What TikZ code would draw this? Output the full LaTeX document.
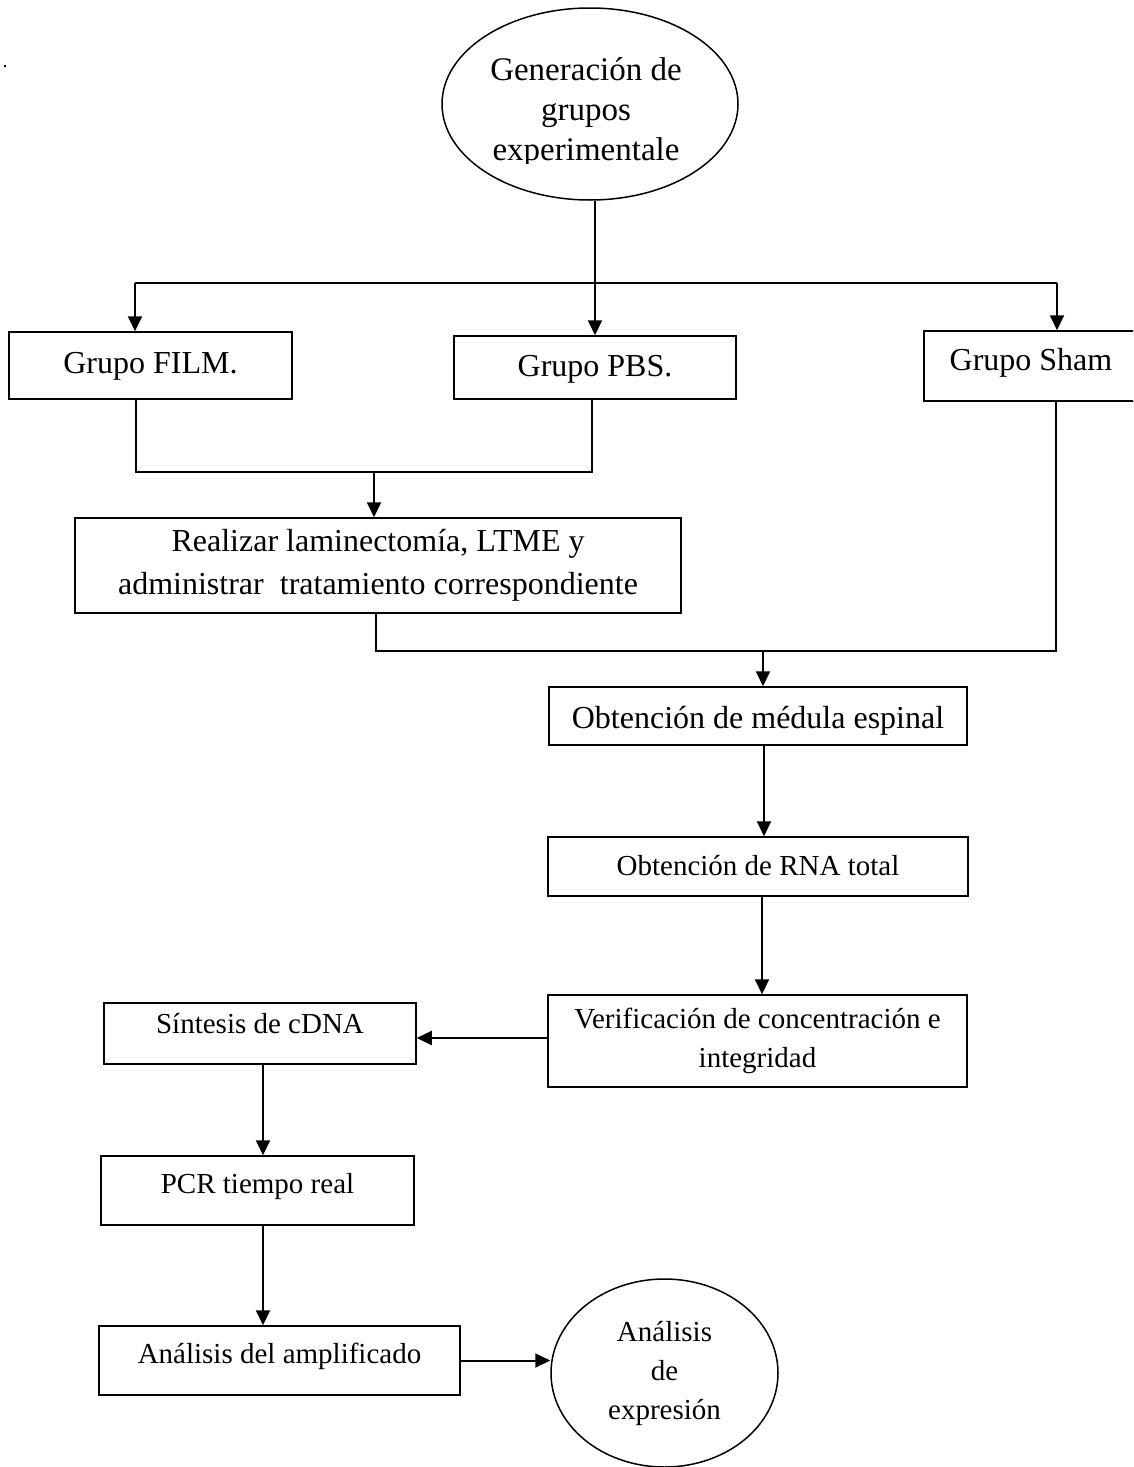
\documentclass[tikz,border=0pt]{standalone}
\usepackage{fontspec}
\setmainfont{Liberation Serif}
\usetikzlibrary{arrows.meta,shapes.geometric}
\tikzset{
  box/.style={draw, line width=1.5pt, inner sep=0pt, align=center},
  oval/.style={ellipse, draw, line width=1.5pt, inner sep=0pt, align=center},
  conn/.style={line width=1.5pt},
  arr/.style={line width=2pt, -{Triangle[length=15pt,width=14pt]}},
  big/.style={font=\fontsize{32}{43}\selectfont},
  small/.style={font=\fontsize{29}{39}\selectfont},
  huge/.style={font=\fontsize{33}{40}\selectfont},
}
\begin{document}
\begin{tikzpicture}[x=1pt,y=-1pt]
\useasboundingbox (0,0) rectangle (1133,1467);
\clip (0,0) rectangle (1133,1467);

% stray dot
\node[font=\fontsize{20}{20}\selectfont, anchor=base, inner sep=0pt] (dot) at (5,67) {.};

% top ellipse
\node[oval, minimum width=296pt, minimum height=192pt] (gen) at (590,104) {};
\begin{scope}
  \clip (430,0) rectangle (760,163.5);
  \node[huge, align=center, inner sep=0pt] (gentext) at (586,113) {Generación de\\grupos\\experimentale};
\end{scope}

% groups
\node[box, big, minimum width=283pt, minimum height=67pt, text height=22pt, text depth=7pt] (film) at (150.5,365.5) {Grupo FILM.};
\node[box, big, minimum width=282pt, minimum height=63pt, text height=24pt, text depth=7pt] (pbs) at (595,367.5) {Grupo PBS.};
\node[box, big, minimum width=214pt, minimum height=70pt, text height=20pt, text depth=12pt] (sham) at (1031,366) {Grupo Sham};

\node[box, big, minimum width=606pt, minimum height=95pt] (lam) at (378,565.5) {Realizar laminectomía, LTME y\\administrar\ \ tratamiento correspondiente};

\node[box, big, minimum width=418pt, minimum height=58pt, text height=26pt, text depth=2pt] (med) at (758,716) {Obtención de médula espinal};
\node[box, small, minimum width=420pt, minimum height=59pt, text height=22pt, text depth=5pt] (rna) at (758,866.5) {Obtención de RNA total};
\node[box, small, minimum width=419pt, minimum height=92pt] (ver) at (757.5,1041) {Verificación de concentración e\\integridad};
\node[box, small, minimum width=312pt, minimum height=61pt, text height=12pt, text depth=13pt] (sin) at (260,1033.5) {Síntesis de cDNA};
\node[box, small, minimum width=313pt, minimum height=69pt, text height=14pt, text depth=9pt] (pcr) at (257.5,1190.5) {PCR tiempo real};
\node[box, small, minimum width=361pt, minimum height=69pt, text height=14pt, text depth=9pt] (amp) at (279.5,1360.5) {Análisis del amplificado};
\node[oval, small, minimum width=227pt, minimum height=188pt] (expr) at (664.5,1373) {Análisis\\de\\expresión};

% connectors
\coordinate (s1) at (135,283);
\coordinate (s2) at (1057,283);
\draw[conn] (s1) -- (s2);
\draw[arr] (s1) -- (s1 |- film.north);
\draw[arr] (s2) -- (s2 |- sham.north);
\draw[arr] (pbs.north |- gen.south) -- (pbs.north);

\coordinate (j1) at (136,472);
\coordinate (j2) at (592,472);
\coordinate (j3) at (374,472);
\draw[conn] (j1 |- film.south) -- (j1) -- (j2) -- (j2 |- pbs.south);
\draw[arr] (j3) -- (j3 |- lam.north);

\coordinate (k1) at (376,651);
\coordinate (k2) at (1056,651);
\coordinate (k3) at (763,651);
\draw[conn] (k1 |- lam.south) -- (k1) -- (k2) -- (k2 |- sham.south);
\draw[arr] (k3) -- (k3 |- med.north);

\coordinate (m1) at (764,800);
\coordinate (m2) at (762,950);
\draw[arr] (med.south -| m1) -- (rna.north -| m1);
\draw[arr] (rna.south -| m2) -- (ver.north -| m2);

\coordinate (h1) at (480,1038);
\draw[arr] (ver.west |- h1) -- (sin.east |- h1);

\coordinate (p1) at (263,1100);
\draw[arr] (sin.south -| p1) -- (pcr.north -| p1);
\draw[arr] (pcr.south -| p1) -- (amp.north -| p1);

\draw[arr] (amp.east) -- (amp.east -| expr.west);
\end{tikzpicture}
\end{document}
